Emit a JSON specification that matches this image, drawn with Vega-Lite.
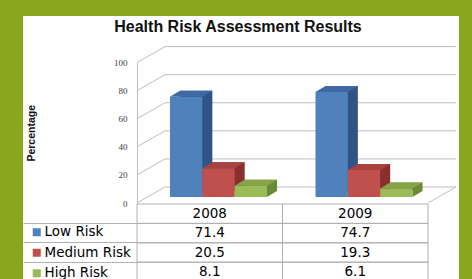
{
  "$schema": "https://vega.github.io/schema/vega-lite/v6.json",
  "width": 436,
  "height": 263,
  "autosize": "none",
  "padding": {"left": 23, "top": 16, "right": 13, "bottom": 0},
  "background": "#89a61d",
  "view": {"fill": "white", "stroke": null},
  "title": {"text": "Health Risk Assessment Results", "font": "Liberation Sans", "fontSize": 16, "fontWeight": "bold", "color": "#111111", "anchor": "middle", "frame": "group", "offset": -19, "dx": -3},
  "datasets": {
    "risk": [
      {"year": "2008", "risk": "Low Risk", "value": 71.4},
      {"year": "2008", "risk": "Medium Risk", "value": 20.5},
      {"year": "2008", "risk": "High Risk", "value": 8.1},
      {"year": "2009", "risk": "Low Risk", "value": 74.7},
      {"year": "2009", "risk": "Medium Risk", "value": 19.3},
      {"year": "2009", "risk": "High Risk", "value": 6.1}
    ],
    "ticks": [{"t": 0}, {"t": 20}, {"t": 40}, {"t": 60}, {"t": 80}, {"t": 100}],
    "years": [{"year": "2008"}, {"year": "2009"}]
  },
  "layer": [
    {
      "resolve": {"scale": {"fill": "independent", "xOffset": "independent"}, "legend": {"fill": "independent"}},
      "layer": [
        {
          "data": {"name": "ticks"},
          "mark": {"type": "rule", "color": "#bfbfbf", "strokeWidth": 1, "xOffset": 28, "x2Offset": 28, "yOffset": -16, "y2Offset": -16},
          "encoding": {
            "x": {"datum": "2008", "type": "nominal", "bandPosition": 0, "scale": {"type": "band", "domain": ["2008", "2009"], "range": [114, 405], "paddingInner": 0, "paddingOuter": 0}, "axis": null},
            "x2": {"datum": "2009", "bandPosition": 1},
            "y": {"field": "t", "type": "quantitative", "scale": {"domain": [0, 100], "range": [187, 46.6], "nice": false, "zero": false},
              "axis": {"orient": "left", "offset": -114, "values": [0, 20, 40, 60, 80, 100], "ticks": false, "tickSize": 0, "grid": false, "domain": true, "domainColor": "#bfbfbf", "labelFont": "Liberation Serif", "labelFontSize": 9, "labelColor": "#404040", "labelPadding": 10, "title": "Percentage", "titleFont": "Liberation Sans", "titleFontSize": 10.5, "titleFontWeight": "bold", "titleColor": "#111111", "titlePadding": 77}},
            "y2": {"field": "t"}
          }
        },
        {
          "data": {"name": "ticks"},
          "mark": {"type": "rule", "color": "#bfbfbf", "strokeWidth": 1, "x2Offset": 28, "y2Offset": -16},
          "encoding": {
            "x": {"datum": "2008", "type": "nominal", "bandPosition": 0, "axis": null},
            "x2": {"datum": "2008", "bandPosition": 0},
            "y": {"field": "t", "type": "quantitative"},
            "y2": {"field": "t"}
          }
        },
        {
          "data": {"name": "ticks"},
          "transform": [{"filter": "datum.t == 0"}],
          "mark": {"type": "rule", "color": "#bfbfbf", "strokeWidth": 1, "x2Offset": 28, "y2Offset": -16},
          "encoding": {
            "x": {"datum": "2009", "type": "nominal", "bandPosition": 1, "axis": null},
            "x2": {"datum": "2009", "bandPosition": 1},
            "y": {"field": "t", "type": "quantitative"},
            "y2": {"field": "t"}
          }
        },
        {
          "data": {"name": "risk"},
          "mark": {"type": "bar", "yOffset": -12, "y2Offset": -12},
          "encoding": {
            "x": {"field": "year", "type": "nominal", "axis": null},
            "xOffset": {"field": "risk", "type": "nominal", "scale": {"type": "band", "domain": ["Low Risk", "Medium Risk", "High Risk"], "paddingInner": 0, "paddingOuter": 0.75, "align": 0.887}},
            "y": {"field": "value", "type": "quantitative"},
            "fill": {"field": "risk", "type": "nominal", "scale": {"domain": ["Low Risk", "Medium Risk", "High Risk"], "range": ["#2f5487", "#8a2f2d", "#6b8a35"]}, "legend": null}
          }
        },
        {
          "data": {"name": "risk"},
          "mark": {"type": "point", "filled": true, "strokeWidth": 0, "opacity": 1, "size": 3600, "yOffset": -6, "shape": "M0.539,0L0.539,-0.2L0.872,-0.2Z"},
          "encoding": {
            "x": {"field": "year", "type": "nominal", "axis": null},
            "xOffset": {"field": "risk", "type": "nominal", "scale": {"type": "band", "domain": ["Low Risk", "Medium Risk", "High Risk"], "paddingInner": 0, "paddingOuter": 0.75, "align": 0.68}},
            "y": {"datum": 0, "type": "quantitative"},
            "fill": {"field": "risk", "type": "nominal", "scale": {"domain": ["Low Risk", "Medium Risk", "High Risk"], "range": ["#2f5487", "#8a2f2d", "#6b8a35"]}, "legend": null}
          }
        },
        {
          "data": {"name": "risk"},
          "mark": {"type": "bar", "yOffset": -6, "y2Offset": -6},
          "encoding": {
            "x": {"field": "year", "type": "nominal", "axis": null},
            "xOffset": {"field": "risk", "type": "nominal", "scale": {"type": "band", "domain": ["Low Risk", "Medium Risk", "High Risk"], "paddingInner": 0, "paddingOuter": 0.75, "align": 0.68}},
            "y": {"field": "value", "type": "quantitative"},
            "color": {"field": "risk", "type": "nominal", "scale": {"domain": ["Low Risk", "Medium Risk", "High Risk"], "range": ["#4f81bd", "#c0504d", "#9bbb59"]},
              "legend": {"orient": "none", "legendX": 7, "legendY": 209.5, "title": null, "direction": "vertical", "symbolType": "square", "symbolSize": 64, "symbolStrokeWidth": 0, "labelFont": "DejaVu Sans", "labelFontSize": 13.5, "labelColor": "#000000", "labelOffset": 1, "rowPadding": 5.5, "padding": 0}}
          }
        },
        {
          "data": {"name": "risk"},
          "mark": {"type": "point", "filled": true, "strokeWidth": 0, "opacity": 1, "size": 3600, "yOffset": -6, "shape": "M-0.539,0L0.539,0L0.872,-0.2L-0.206,-0.2Z"},
          "encoding": {
            "x": {"field": "year", "type": "nominal", "axis": null},
            "xOffset": {"field": "risk", "type": "nominal", "scale": {"type": "band", "domain": ["Low Risk", "Medium Risk", "High Risk"], "paddingInner": 0, "paddingOuter": 0.75, "align": 0.68}},
            "y": {"field": "value", "type": "quantitative"},
            "fill": {"field": "risk", "type": "nominal", "scale": {"domain": ["Low Risk", "Medium Risk", "High Risk"], "range": ["#4069a4", "#a8413f", "#87a548"]}, "legend": null}
          }
        }
      ]
    },
    {
      "layer": [
        {
          "data": {"name": "risk"},
          "mark": {"type": "rect", "fillOpacity": 0, "stroke": "#b0b0b0", "strokeWidth": 1},
          "encoding": {
            "x": {"field": "year", "type": "nominal", "axis": null},
            "y": {"field": "risk", "type": "nominal", "scale": {"type": "band", "domain": ["Year", "Low Risk", "Medium Risk", "High Risk"], "range": [188, 265.6], "paddingInner": 0, "paddingOuter": 0},
              "axis": {"orient": "left", "offset": -114, "bandPosition": 0, "labels": false, "domain": false, "grid": false, "ticks": true, "tickSize": 114, "tickColor": {"condition": {"test": "datum.value === 'Year'", "value": "transparent"}, "value": "#b0b0b0"}, "title": null}}
          }
        },
        {
          "data": {"name": "years"},
          "mark": {"type": "rect", "fillOpacity": 0, "stroke": "#b0b0b0", "strokeWidth": 1},
          "encoding": {
            "x": {"field": "year", "type": "nominal", "axis": null},
            "y": {"datum": "Year", "type": "nominal"}
          }
        },
        {
          "data": {"name": "risk"},
          "mark": {"type": "text", "font": "DejaVu Sans", "fontSize": 13.5, "color": "#000000"},
          "encoding": {
            "x": {"field": "year", "type": "nominal", "axis": null},
            "y": {"field": "risk", "type": "nominal"},
            "text": {"field": "value", "type": "quantitative", "format": ".1f"}
          }
        },
        {
          "data": {"name": "years"},
          "mark": {"type": "text", "font": "DejaVu Sans", "fontSize": 13.5, "color": "#000000"},
          "encoding": {
            "x": {"field": "year", "type": "nominal", "axis": null},
            "y": {"datum": "Year", "type": "nominal"},
            "text": {"field": "year", "type": "nominal"}
          }
        }
      ]
    }
  ],
  "resolve": {"scale": {"y": "independent"}, "axis": {"y": "independent"}}
}
